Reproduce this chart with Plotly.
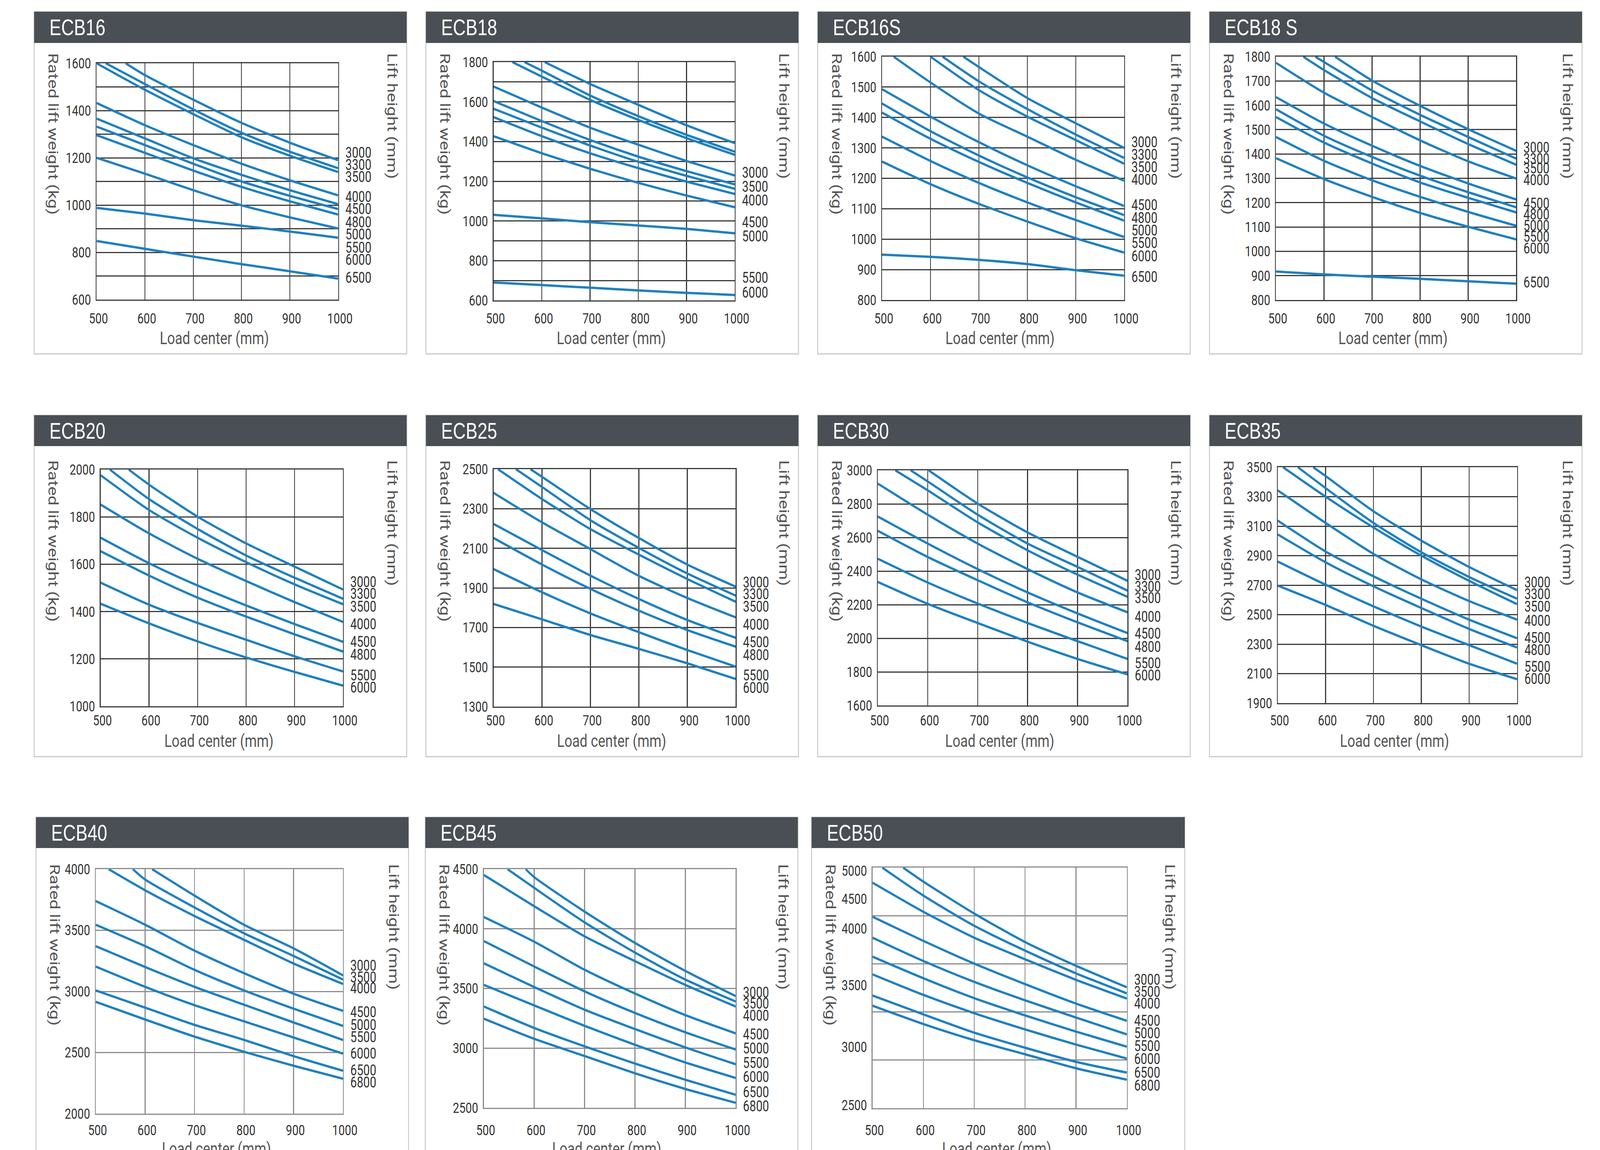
import plotly.graph_objects as go

W, H = 5248, 2944
N = None
LOAD_CENTER = [500, 600, 700, 800, 900, 1000]

# ---------------- ECB16 ----------------
ECB16_yticks = [600, 800, 1000, 1200, 1400, 1600]
ECB16_heights = ["3000", "3300", "3500", "4000", "4500", "4800", "5000", "5500", "6000", "6500"]
ECB16_entry = [560, 519, N, N, N, N, N, N, N, N]
ECB16_rated = [
    [N, 1550, 1446, 1348, 1264, 1190],
    [N, 1512, 1405, 1306, 1226, 1156],
    [1600, 1488, 1385, 1287, 1209, 1140],
    [1432, 1338, 1254, 1175, 1105, 1041],
    [1366, 1282, 1198, 1128, 1063, 1004],
    [1332, 1254, 1175, 1100, 1039, 983],
    [1296, 1221, 1146, 1077, 1016, 960],
    [1200, 1133, 1063, 999, 948, 901],
    [988, 964, 936, 913, 888, 862],
    [848, 815, 782, 750, 720, 689],
]
ECB16_label_kg = [1222, 1170, 1119, 1035, 984, 928, 876, 820, 768, 693]

# ---------------- ECB18 ----------------
ECB18_yticks = [600, 800, 1000, 1200, 1400, 1600, 1800]
ECB18_heights = ["3000", "3500", "4000", "4500", "5000", "5500", "6000"]
ECB18_entry = [606, 564, 539, N, N, N, N, N, N, N]
ECB18_rated = [
    [N, N, 1690, 1585, 1482, 1392],
    [N, 1757, 1632, 1528, 1434, 1349],
    [N, 1727, 1610, 1509, 1417, 1333],
    [1677, 1571, 1470, 1384, 1302, 1229],
    [1604, 1503, 1408, 1324, 1251, 1184],
    [1565, 1470, 1380, 1298, 1227, 1162],
    [1523, 1427, 1341, 1266, 1198, 1136],
    [1427, 1341, 1263, 1192, 1128, 1069],
    [1031, 1013, 994, 977, 960, 938],
    [690, 677, 664, 650, 638, 627],
]
ECB18_label_kg = [1244, 1173, 1103, 994, 923, 714, 639]

# ---------------- ECB16S ----------------
ECB16S_yticks = [800, 900, 1000, 1100, 1200, 1300, 1400, 1500, 1600]
ECB16S_heights = ["3000", "3300", "3500", "4000", "4500", "4800", "5000", "5500", "6000", "6500"]
ECB16S_entry = [668, 625, 600, 524, N, N, N, N, N, N]
ECB16S_rated = [
    [N, N, 1566, 1464, 1381, 1300],
    [N, N, 1519, 1428, 1344, 1267],
    [N, N, 1490, 1403, 1326, 1248],
    [N, 1515, 1413, 1337, 1261, 1192],
    [1493, 1403, 1319, 1243, 1174, 1109],
    [1446, 1355, 1275, 1203, 1138, 1079],
    [1416, 1330, 1254, 1185, 1121, 1061],
    [1337, 1257, 1185, 1121, 1063, 1007],
    [1255, 1181, 1116, 1058, 1003, 956],
    [949, 942, 932, 918, 898, 880],
]
ECB16S_label_kg = [1319, 1278, 1237, 1196, 1112, 1070, 1029, 987, 944, 876]

# ---------------- ECB18S ----------------
ECB18S_yticks = [800, 900, 1000, 1100, 1200, 1300, 1400, 1500, 1600, 1700, 1800]
ECB18S_heights = ["3000", "3300", "3500", "4000", "4500", "4800", "5000", "5500", "6000", "6500"]
ECB18S_entry = [623, 582, 557, N, N, N, N, N, N, N]
ECB18S_rated = [
    [N, N, 1702, 1598, 1502, 1413],
    [N, 1778, 1661, 1561, 1470, 1381],
    [N, 1745, 1630, 1534, 1441, 1356],
    [1775, 1652, 1552, 1456, 1370, 1299],
    [1634, 1525, 1434, 1351, 1279, 1213],
    [1584, 1475, 1388, 1311, 1243, 1181],
    [1552, 1447, 1361, 1283, 1220, 1160],
    [1470, 1372, 1292, 1224, 1162, 1105],
    [1383, 1297, 1224, 1158, 1101, 1049],
    [917, 905, 896, 887, 877, 867],
]
ECB18S_label_kg = [1426, 1379, 1341, 1292, 1197, 1151, 1105, 1060, 1012, 873]

# ---------------- ECB20 ----------------
ECB20_yticks = [1000, 1200, 1400, 1600, 1800, 2000]
ECB20_heights = ["3000", "3300", "3500", "4000", "4500", "4800", "5500", "6000"]
ECB20_entry = [558, 519, N, N, N, N, N, N]
ECB20_rated = [
    [N, 1936, 1801, 1688, 1590, 1493],
    [N, 1875, 1749, 1637, 1543, 1454],
    [1976, 1829, 1712, 1609, 1515, 1431],
    [1852, 1730, 1623, 1529, 1440, 1356],
    [1712, 1604, 1510, 1426, 1347, 1272],
    [1655, 1552, 1459, 1379, 1304, 1231],
    [1522, 1429, 1352, 1281, 1211, 1147],
    [1433, 1350, 1274, 1206, 1145, 1087],
]
ECB20_label_kg = [1524, 1475, 1421, 1346, 1272, 1218, 1131, 1080]

# ---------------- ECB25 ----------------
ECB25_yticks = [1300, 1500, 1700, 1900, 2100, 2300, 2500]
ECB25_heights = ["3000", "3300", "3500", "4000", "4500", "4800", "5500", "6000"]
ECB25_entry = [576, 546, 509, N, N, N, N, N]
ECB25_rated = [
    [N, 2461, 2298, 2152, 2018, 1906],
    [N, 2410, 2242, 2102, 1973, 1861],
    [N, 2349, 2197, 2068, 1945, 1830],
    [2380, 2231, 2096, 1961, 1849, 1751],
    [2223, 2091, 1962, 1844, 1738, 1648],
    [2152, 2018, 1895, 1785, 1687, 1603],
    [1995, 1878, 1771, 1676, 1586, 1502],
    [1819, 1741, 1662, 1592, 1519, 1440],
]
ECB25_label_kg = [1928, 1869, 1805, 1715, 1625, 1561, 1457, 1395]

# ---------------- ECB30 ----------------
ECB30_yticks = [1600, 1800, 2000, 2200, 2400, 2600, 2800, 3000]
ECB30_heights = ["3000", "3300", "3500", "4000", "4500", "4800", "5500", "6000"]
ECB30_entry = [602, 566, 535, N, N, N, N, N]
ECB30_rated = [
    [N, N, 2802, 2630, 2485, 2342],
    [N, 2934, 2736, 2564, 2425, 2284],
    [N, 2881, 2690, 2524, 2379, 2247],
    [2921, 2736, 2564, 2412, 2273, 2155],
    [2725, 2564, 2412, 2273, 2148, 2031],
    [2640, 2484, 2346, 2214, 2095, 1983],
    [2474, 2332, 2207, 2091, 1983, 1877],
    [2335, 2205, 2091, 1980, 1877, 1785],
]
ECB30_label_kg = [2376, 2306, 2240, 2128, 2029, 1950, 1851, 1778]

# ---------------- ECB35 ----------------
ECB35_yticks = [1900, 2100, 2300, 2500, 2700, 2900, 3100, 3300, 3500]
ECB35_heights = ["3000", "3300", "3500", "4000", "4500", "4800", "5500", "6000"]
ECB35_entry = [574, 542, 511, N, N, N, N, N]
ECB35_rated = [
    [N, 3440, 3201, 3002, 2823, 2666],
    [N, 3358, 3122, 2923, 2755, 2608],
    [N, 3300, 3091, 2900, 2729, 2571],
    [3343, 3122, 2912, 2739, 2592, 2466],
    [3138, 2928, 2760, 2608, 2466, 2340],
    [3044, 2855, 2692, 2545, 2403, 2277],
    [2860, 2703, 2556, 2419, 2293, 2167],
    [2697, 2566, 2424, 2293, 2167, 2062],
]
ECB35_label_kg = [2719, 2639, 2553, 2458, 2342, 2259, 2146, 2063]

# ---------------- ECB40 ----------------
ECB40_yticks = [2000, 2500, 3000, 3500, 4000]
ECB40_heights = ["3000", "3500", "4000", "4500", "5000", "5500", "6000", "6500", "6800"]
ECB40_entry = [614, 575, 526, N, N, N, N, N, N]
ECB40_rated = [
    [N, N, 3783, 3545, 3352, 3131],
    [N, 3915, 3686, 3475, 3290, 3097],
    [N, 3827, 3616, 3422, 3228, 3061],
    [3739, 3545, 3333, 3149, 2981, 2841],
    [3545, 3370, 3176, 3008, 2859, 2718],
    [3370, 3199, 3037, 2891, 2746, 2603],
    [3203, 3037, 2887, 2755, 2623, 2491],
    [3008, 2867, 2726, 2603, 2471, 2351],
    [2915, 2770, 2630, 2506, 2392, 2286],
]
ECB40_label_kg = [3211, 3114, 3026, 2832, 2726, 2625, 2492, 2356, 2256]

# ---------------- ECB45 ----------------
ECB45_yticks = [2500, 3000, 3500, 4000, 4500]
ECB45_heights = ["3000", "3500", "4000", "4500", "5000", "5500", "6000", "6500", "6800"]
ECB45_entry = [583, 547, N, N, N, N, N, N, N]
ECB45_rated = [
    [N, 4433, 4144, 3882, 3647, 3436],
    [N, 4343, 4054, 3801, 3575, 3391],
    [4451, 4189, 3937, 3729, 3530, 3349],
    [4099, 3892, 3657, 3458, 3277, 3124],
    [3897, 3684, 3476, 3295, 3133, 2988],
    [3711, 3512, 3322, 3160, 3006, 2865],
    [3530, 3358, 3187, 3028, 2880, 2750],
    [3349, 3169, 3015, 2871, 2735, 2609],
    [3247, 3078, 2934, 2789, 2658, 2542],
]
ECB45_label_kg = [3467, 3373, 3273, 3114, 2997, 2876, 2757, 2632, 2514]

# ---------------- ECB50 ----------------
ECB50_axis = [2500, 5000]
ECB50_yticks = [2534, 3139, 3778, 4368, 4675, 4966]          # where the printed labels sit
ECB50_ytext = ["2500", "3000", "3500", "4000", "4500", "5000"]
ECB50_heights = ["3000", "3500", "4000", "4500", "5000", "5500", "6000", "6500", "6800"]
ECB50_entry = [560, 519, N, N, N, N, N, N, N]
ECB50_rated = [
    [N, 4854, 4522, 4226, 3980, 3756],
    [N, 4709, 4395, 4137, 3901, 3693],
    [4843, 4540, 4271, 4047, 3834, 3639],
    [4489, 4238, 4002, 3789, 3587, 3408],
    [4271, 4029, 3812, 3621, 3442, 3267],
    [4074, 3850, 3643, 3464, 3296, 3139],
    [3890, 3677, 3487, 3318, 3161, 3016],
    [3670, 3475, 3285, 3128, 2982, 2870],
    [3565, 3374, 3206, 3060, 2915, 2796],
]
ECB50_label_kg = [3834, 3711, 3587, 3408, 3280, 3146, 3011, 2870, 2735]


def panel(yticks, heights, entry, rated, labels, ytext=None, axis=None):
    return dict(yticks=yticks, ytext=ytext or [str(v) for v in yticks],
                range=axis or [min(yticks), max(yticks)],
                heights=heights, entry=entry, rated=rated, labels=labels)


DATA = {
    "ECB16": panel(ECB16_yticks, ECB16_heights, ECB16_entry, ECB16_rated, ECB16_label_kg),
    "ECB18": panel(ECB18_yticks, ECB18_heights, ECB18_entry, ECB18_rated, ECB18_label_kg),
    "ECB16S": panel(ECB16S_yticks, ECB16S_heights, ECB16S_entry, ECB16S_rated, ECB16S_label_kg),
    "ECB18S": panel(ECB18S_yticks, ECB18S_heights, ECB18S_entry, ECB18S_rated, ECB18S_label_kg),
    "ECB20": panel(ECB20_yticks, ECB20_heights, ECB20_entry, ECB20_rated, ECB20_label_kg),
    "ECB25": panel(ECB25_yticks, ECB25_heights, ECB25_entry, ECB25_rated, ECB25_label_kg),
    "ECB30": panel(ECB30_yticks, ECB30_heights, ECB30_entry, ECB30_rated, ECB30_label_kg),
    "ECB35": panel(ECB35_yticks, ECB35_heights, ECB35_entry, ECB35_rated, ECB35_label_kg),
    "ECB40": panel(ECB40_yticks, ECB40_heights, ECB40_entry, ECB40_rated, ECB40_label_kg),
    "ECB45": panel(ECB45_yticks, ECB45_heights, ECB45_entry, ECB45_rated, ECB45_label_kg),
    "ECB50": panel(ECB50_yticks, ECB50_heights, ECB50_entry, ECB50_rated, ECB50_label_kg,
                   ytext=ECB50_ytext, axis=ECB50_axis),
}

# ---------------- layout geometry (pixels of the 5248x2944 design) ----------------
ROW1 = dict(box_t=30, head_b=110, box_b=906, tick_y=809, xtitle=866, stitle=134, grid="#3b3b3b")
ROW2 = dict(box_t=1063, head_b=1142, box_b=1937, tick_y=1838, xtitle=1896, stitle=1176, grid="#3b3b3b")
ROW3 = dict(box_t=2092, head_b=2171, box_b=3000, tick_y=2887, xtitle=2940, stitle=2210, grid="#8d8d8d")
GEOM = {
    "ECB16": dict(title="ECB16", plot=(317, 1109, 162, 767), box=(112, 1334), row=ROW1, minor=100),
    "ECB18": dict(title="ECB18", plot=(1619, 2410, 159, 769), box=(1397, 2619), row=ROW1, minor=100),
    "ECB16S": dict(title="ECB16S", plot=(2893, 3687, 145, 768), box=(2682, 3904), row=ROW1, minor=None),
    "ECB18S": dict(title="ECB18 S", plot=(4185, 4973, 145, 768), box=(3967, 5189), row=ROW1, minor=None),
    "ECB20": dict(title="ECB20", plot=(330, 1125, 1202, 1808), box=(112, 1334), row=ROW2, minor=None),
    "ECB25": dict(title="ECB25", plot=(1619, 2413, 1201, 1809), box=(1397, 2619), row=ROW2, minor=None),
    "ECB30": dict(title="ECB30", plot=(2879, 3698, 1204, 1806), box=(2682, 3904), row=ROW2, minor=None),
    "ECB35": dict(title="ECB35", plot=(4191, 4976, 1196, 1800), box=(3967, 5189), row=ROW2, minor=None),
    "ECB40": dict(title="ECB40", plot=(314, 1125, 2225, 2851), box=(118, 1340), row=ROW3, minor=None),
    "ECB45": dict(title="ECB45", plot=(1587, 2413, 2225, 2836), box=(1395, 2617), row=ROW3, minor=None),
    "ECB50": dict(title="ECB50", plot=(2862, 3696, 2221, 2837), box=(2662, 3886), row=ROW3, minor=500,
                  labels_off_grid=True),
}
ORDER = ["ECB16", "ECB18", "ECB16S", "ECB18S", "ECB20", "ECB25", "ECB30", "ECB35",
         "ECB40", "ECB45", "ECB50"]

BLUE = "#1f80bf"
HEADER = "#4a4f55"
BORDER = "#c8c8c8"
TXT = "#333333"
TITLE_TXT = "#555555"
FONT = "Roboto, Arial, sans-serif"
HEAD_FONT = "Liberation Sans, Arial, sans-serif"


def px(x):
    return x / W


def py(y):
    return 1 - y / H


fig = go.Figure()
layout = {}
shapes = []
annotations = []

for k, name in enumerate(ORDER, start=1):
    d = DATA[name]
    g = GEOM[name]
    row = g["row"]
    sfx = "" if k == 1 else str(k)
    xa, ya = "x" + sfx, "y" + sfx
    l, r, t, b = g["plot"]
    L, R = g["box"]
    ymin, ymax = d["range"]

    for i, vals in enumerate(d["rated"]):
        xs = [lc for lc, v in zip(LOAD_CENTER, vals) if v is not None]
        ys = [v for v in vals if v is not None]
        if d["entry"][i] is not None:
            xs = [d["entry"][i]] + xs
            ys = [ymax] + ys
        fig.add_trace(go.Scatter(
            x=xs, y=ys, mode="lines", xaxis=xa, yaxis=ya, showlegend=False,
            hoverinfo="skip",
            line=dict(color=BLUE, width=6, shape="spline", smoothing=0.7),
        ))

    gridc = row["grid"]
    layout["xaxis" + sfx] = dict(
        domain=[px(l), px(r)], anchor=ya, range=[500, 1000], automargin=False,
        tickmode="array", tickvals=LOAD_CENTER, ticktext=[str(v) for v in LOAD_CENTER],
        ticks="", ticklabelstandoff=max(0, row["tick_y"] - b - 28), ticklabelshift=6,
        tickfont=dict(family=FONT, size=37, color=TXT),
        showgrid=True, gridcolor=gridc, gridwidth=3,
        showline=True, mirror=True, linecolor=gridc, linewidth=3,
        zeroline=False, fixedrange=True,
    )
    yax = dict(
        domain=[py(b), py(t)], anchor=xa, range=[ymin, ymax], automargin=False,
        tickmode="array", tickvals=d["yticks"], ticktext=d["ytext"],
        ticks="", ticklabelstandoff=8,
        tickfont=dict(family=FONT, size=37, color=TXT),
        showgrid=not g.get("labels_off_grid", False), gridcolor=gridc, gridwidth=3,
        showline=True, mirror=True, linecolor=gridc, linewidth=3,
        zeroline=False, fixedrange=True,
    )
    if g["minor"]:
        yax["minor"] = dict(tickmode="linear", tick0=ymin, dtick=g["minor"], ticks="",
                            showgrid=True, gridcolor=gridc, gridwidth=3)
    layout["yaxis" + sfx] = yax

    # panel frame and header band
    shapes.append(dict(type="rect", xref="paper", yref="paper", layer="below",
                       x0=px(L), x1=px(R), y0=py(row["box_b"]), y1=py(row["box_t"]),
                       line=dict(color=BORDER, width=3), fillcolor="rgba(0,0,0,0)"))
    shapes.append(dict(type="rect", xref="paper", yref="paper", layer="below",
                       x0=px(L), x1=px(R), y0=py(row["head_b"]), y1=py(row["box_t"]),
                       line=dict(width=0), fillcolor=HEADER))

    annotations.append(dict(text=g["title"], xref="paper", yref="paper",
                            x=px(L + 48), y=py((row["box_t"] + row["head_b"]) / 2),
                            xanchor="left", yanchor="middle", showarrow=False,
                            font=dict(family=HEAD_FONT, size=58, color="white")))
    annotations.append(dict(text="Load center (mm)", xref="paper", yref="paper",
                            x=px((l + r) / 2 - 10), y=py(row["xtitle"]),
                            xanchor="center", yanchor="middle", showarrow=False,
                            font=dict(family=FONT, size=45, color=TITLE_TXT)))
    annotations.append(dict(text="Rated lift weight (kg)", xref="paper", yref="paper",
                            x=px(L + 62), y=py(row["stitle"]), textangle=90,
                            xanchor="center", yanchor="top", showarrow=False,
                            font=dict(family=FONT, size=45, color=TITLE_TXT)))
    annotations.append(dict(text="Lift height (mm)", xref="paper", yref="paper",
                            x=px(R - 48), y=py(row["stitle"]), textangle=90,
                            xanchor="center", yanchor="top", showarrow=False,
                            font=dict(family=FONT, size=45, color=TITLE_TXT)))
    for h_txt, kg in zip(d["heights"], d["labels"]):
        annotations.append(dict(text=h_txt, xref=xa, yref=ya, x=1000, y=kg,
                                xanchor="left", yanchor="middle", xshift=22,
                                showarrow=False,
                                font=dict(family=FONT, size=38, color=TXT)))

fig.update_layout(
    width=W, height=H, autosize=False,
    margin=dict(l=0, r=0, t=0, b=0, pad=0, autoexpand=False),
    paper_bgcolor="white", plot_bgcolor="white",
    shapes=shapes, annotations=annotations,
    **layout,
)

# The page is drawn for a 5248x2944 window; if the actual viewport differs,
# map the whole figure onto it so the picture keeps the same layout.
FIT_JS = """
(function(){
  var gd = document.getElementById('{plot_id}');
  var de = document.documentElement, bd = document.body;
  de.style.margin = '0'; de.style.padding = '0'; de.style.overflow = 'hidden';
  bd.style.margin = '0'; bd.style.padding = '0'; bd.style.overflow = 'hidden';
  gd.style.position = 'fixed';
  gd.style.left = '0px';
  gd.style.top = '0px';
  gd.style.margin = '0';
  gd.style.transformOrigin = '0 0';
  function fit(){
    var sx = window.innerWidth / %d, sy = window.innerHeight / %d;
    gd.style.transform = 'scale(' + sx + ',' + sy + ')';
  }
  fit();
  window.addEventListener('resize', fit);
})();
""" % (W, H)

fig.write_html("out.html", config={"displayModeBar": False, "staticPlot": True},
               post_script=FIT_JS)
